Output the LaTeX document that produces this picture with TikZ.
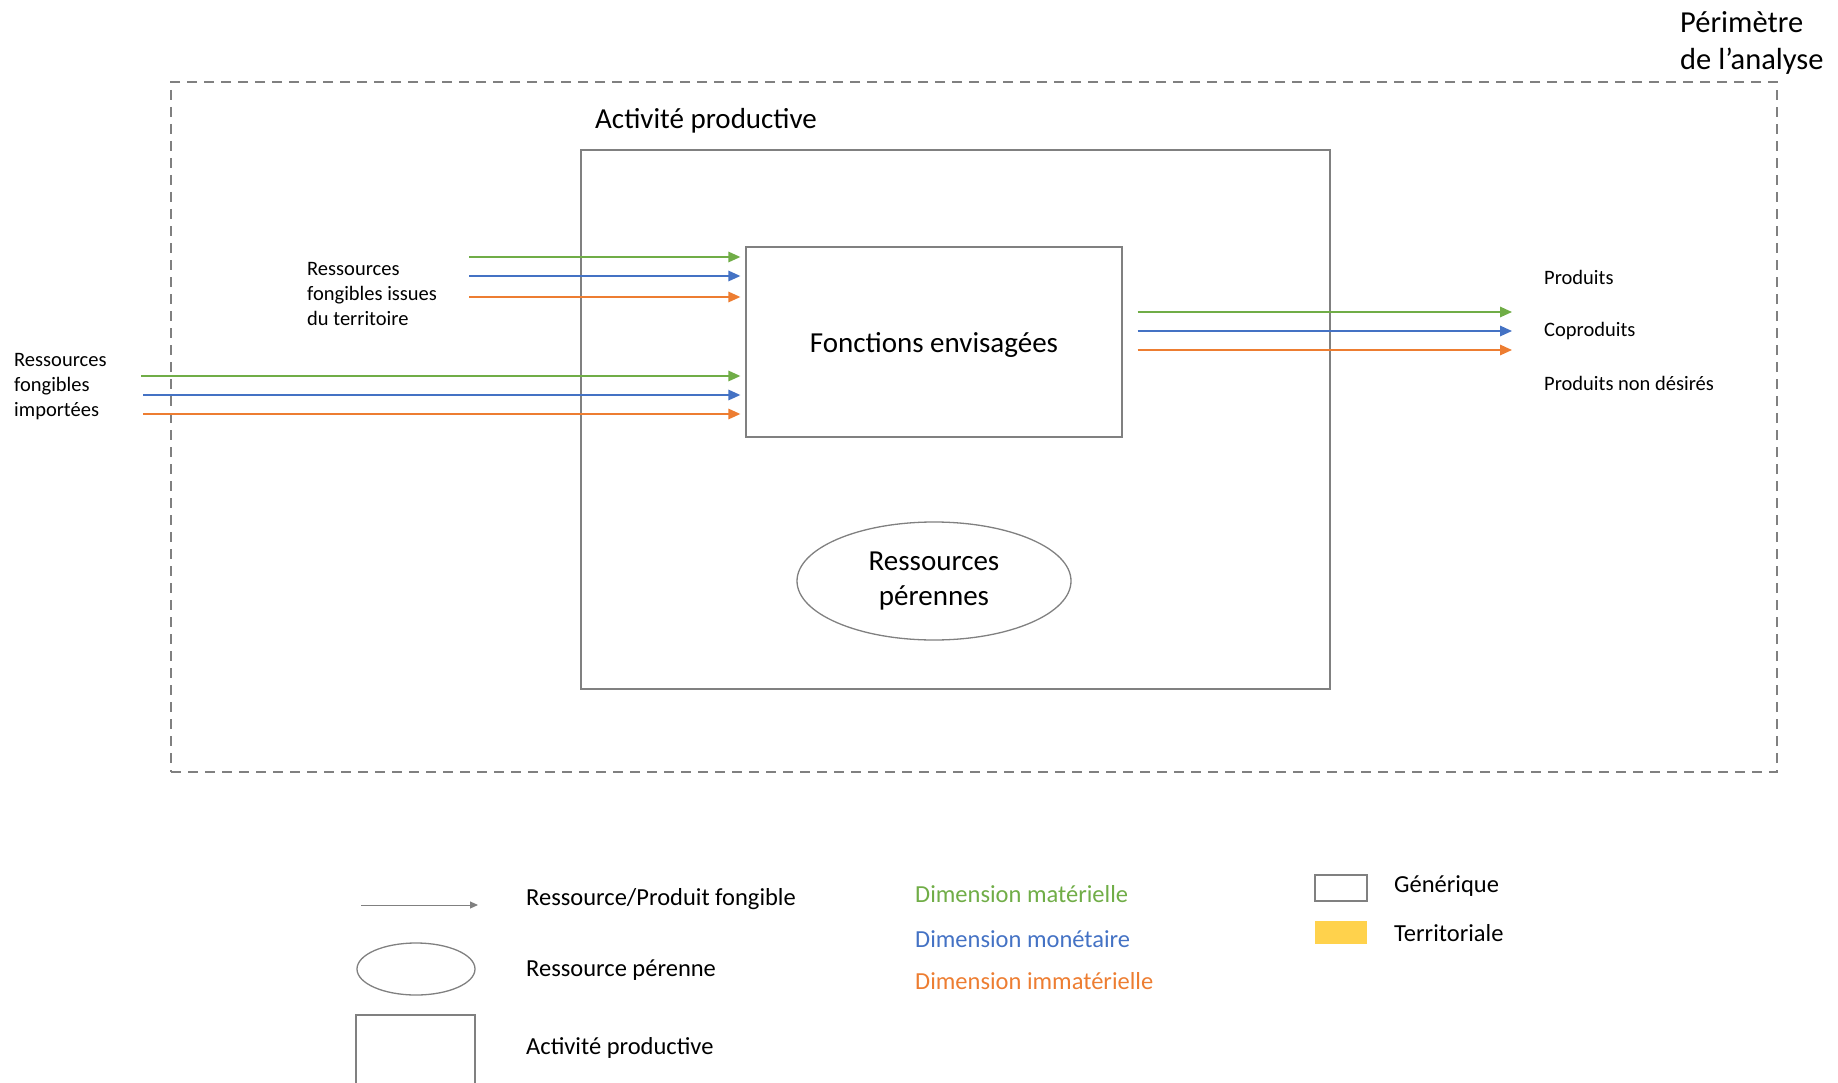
\documentclass[tikz,border=0pt]{standalone}
\usepackage{fontspec}
\setmainfont{Carlito}
\usetikzlibrary{arrows.meta,shapes.geometric,positioning}
\definecolor{MatClr}{RGB}{112,173,71}
\definecolor{MonClr}{RGB}{68,114,196}
\definecolor{ImmClr}{RGB}{237,125,49}
\definecolor{LineClr}{RGB}{128,128,128}
\definecolor{TerrClr}{RGB}{255,210,76}

\begin{document}
\begin{tikzpicture}[x=1pt,y=-1pt,
  flux/.style={line width=1.6pt,-{Triangle[length=12pt,width=10.5pt]}},
  boite/.style={draw=LineClr,line width=1.3pt,inner sep=0pt},
  lbl/.style={font=\fontsize{20.5}{25}\selectfont,align=left,inner sep=0pt,anchor=west},
  leg/.style={font=\fontsize{24.5}{28}\selectfont,inner sep=0pt,anchor=west},
  titre/.style={font=\fontsize{29}{37}\selectfont,align=left,inner sep=0pt,anchor=west}]
\useasboundingbox (0,0) rectangle (1838,1083);
\clip (0,0) rectangle (1838,1083);

% perimetre et activite
\node[draw=LineClr,line width=2.5pt,dash pattern=on 10pt off 7pt,
  minimum width=1606,minimum height=690] (perim) at (974,427) {};
\node[titre,font=\fontsize{30.5}{37}\selectfont] (perimlbl) at (1680,43) {Périmètre\\de l’analyse};
\node[boite,minimum width=749,minimum height=539] (activite) at (955.5,419.5) {};
\node[titre] (activitelbl) at (595,121) {Activité productive};
\node[boite,minimum width=376,minimum height=190,text depth=-3pt,
  font=\fontsize{29}{33}\selectfont] (fonct) at (934,342) {Fonctions envisagées};
\node[boite,ellipse,minimum width=274,minimum height=118,align=center,
  font=\fontsize{29}{35}\selectfont] (perenne) at (934,581) {Ressources\\pérennes};

% flux entrants et sortants
\node[lbl] (terr) at (307,294) {Ressources\\fongibles issues\\du territoire};
\node[lbl] (impo) at (14,387) {Ressources\\fongibles\\importées};
\coordinate (t1) at (469,257);
\coordinate (t2) at (469,276);
\coordinate (t3) at (469,297);
\coordinate (i1) at (141,376);
\coordinate (i2) at (143,395);
\coordinate (i3) at (143,414);
\coordinate (s1) at (1512,312);
\coordinate (s2) at (1512,331);
\coordinate (s3) at (1512,350);
\foreach \p/\c in {1/MatClr,2/MonClr,3/ImmClr}{
  \draw[flux,\c,shorten >=5pt] (t\p) -- (t\p -| fonct.west);
  \draw[flux,\c,shorten >=5pt] (i\p) -- (i\p -| fonct.west);
  \draw[flux,\c,shorten <=15pt] (s\p -| fonct.east) -- (s\p);
}
\node[lbl] (produits) at (1544,277) {Produits};
\node[lbl] (coprod) at (1544,331) {Coproduits};
\node[lbl] (nondes) at (1544,383) {Produits non désirés};

% legende
\coordinate (la) at (361,905);
\coordinate (lb) at (478,905);
\draw[LineClr,line width=1pt,-{Triangle[length=8pt,width=7pt]}] (la) -- (lb);
\node[leg] (legflux) at (526,899) {Ressource/Produit fongible};
\node[boite,ellipse,minimum width=118,minimum height=52] (legell) at (416,969) {};
\node[leg] (legper) at (526,970) {Ressource pérenne};
\draw[LineClr,line width=2pt] (356,1100) -- (356,1015) -- (475,1015) -- (475,1100);
\node[leg] (legact) at (526,1048) {Activité productive};
\node[leg,text=MatClr] (legmat) at (915,894) {Dimension matérielle};
\node[leg,text=MonClr] (legmon) at (915,939) {Dimension monétaire};
\node[leg,text=ImmClr] (legimm) at (915,981) {Dimension immatérielle};
\draw[LineClr,line width=1.3pt] (1315,875) rectangle (1367,901);
\node[leg] (leggen) at (1394,886) {Générique};
\fill[TerrClr] (1315,921) rectangle (1367,944);
\node[leg] (legter) at (1394,933) {Territoriale};
\end{tikzpicture}
\end{document}
